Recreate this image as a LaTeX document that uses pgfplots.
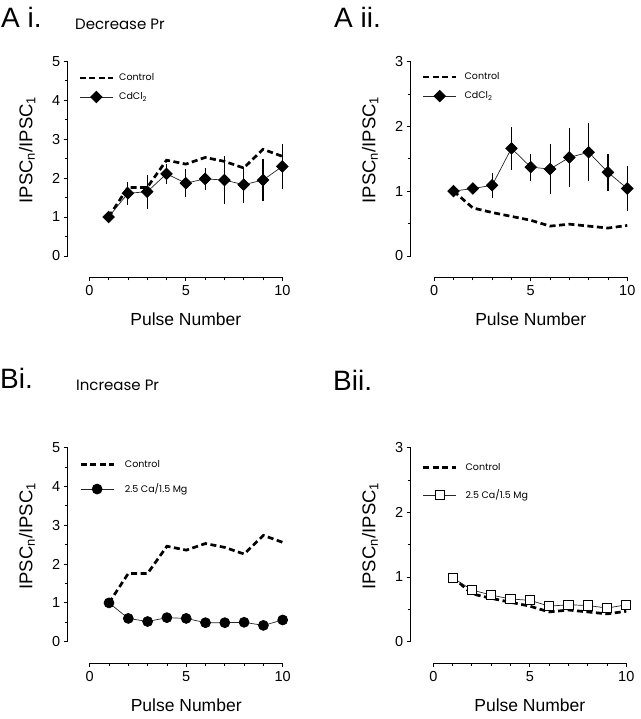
\documentclass[border=0pt]{standalone}
\usepackage{fontspec}
\setmainfont{Liberation Sans}
\newfontfamily\poppins{Poppins}
\usepackage{pgfplots}
\usepackage{pgfplotstable}
\pgfplotsset{compat=1.18}

% Control, "decrease Pr" set (panels Ai and Bi)
\pgfplotstableread{
x y
1 1.00
2 1.76
3 1.76
4 2.46
5 2.36
6 2.53
7 2.43
8 2.26
9 2.74
10 2.56
}\ctrlup
% Control, panels Aii and Bii
\pgfplotstableread{
x y
1 1.00
2 0.74
3 0.67
4 0.61
5 0.55
6 0.46
7 0.49
8 0.46
9 0.43
10 0.47
}\ctrldown
% CdCl2, panel Ai
\pgfplotstableread{
x y e
1 1.00 0
2 1.61 0.30
3 1.65 0.44
4 2.11 0.26
5 1.87 0.36
6 1.98 0.29
7 1.95 0.61
8 1.83 0.46
9 1.95 0.55
10 2.30 0.58
}\cdA
% CdCl2, panel Aii
\pgfplotstableread{
x y e
1 1.00 0
2 1.04 0.05
3 1.09 0.19
4 1.66 0.33
5 1.37 0.21
6 1.34 0.38
7 1.52 0.45
8 1.60 0.45
9 1.29 0.29
10 1.04 0.34
}\cdB
% 2.5 Ca / 1.5 Mg, panel Bi
\pgfplotstableread{
x y
1 1.00
2 0.60
3 0.52
4 0.62
5 0.60
6 0.49
7 0.49
8 0.50
9 0.42
10 0.56
}\caA
% 2.5 Ca / 1.5 Mg, panel Bii
\pgfplotstableread{
x y
1 0.99
2 0.80
3 0.72
4 0.66
5 0.64
6 0.55
7 0.57
8 0.56
9 0.52
10 0.57
}\caB

\pgfplotsset{
  panel/.style={
    clip=false,
    axis lines*=left,
    tick align=outside,
    x=19.3pt,
    xmax=10,
    xtick={0,5,10},
    minor x tick num=4,
    minor y tick num=1,
    major tick length=4pt,
    minor tick length=3pt,
    every tick/.style={black, line width=0.8pt},
    axis line style={line width=0.8pt},
    tick label style={font=\fontsize{14.5}{14.5}\selectfont},
    xticklabel style={yshift=-1pt},
    /pgf/number format/assume math mode=true,
    xlabel={Pulse Number},
    ylabel={IPSC\textsubscript{n}/IPSC\textsubscript{1}},
    every axis x label/.style={at={(axis cs:5,0)}, anchor=base, yshift=-70pt,
      font=\fontsize{17.5}{17.5}\selectfont},
    every axis y label/.style={at={(rel axis cs:0,0.59)}, rotate=90, anchor=base,
      yshift=35.4pt, font=\fontsize{18.5}{18.5}\selectfont},
    legend cell align=left,
    legend image code/.code={\draw[mark repeat=2,mark phase=2,##1]
      plot coordinates {(0pt,0pt) (16.5pt,0pt) (33pt,0pt)};},
    legend style={draw=none, fill=none, inner sep=0pt, anchor=north west,
      font=\poppins\fontsize{9.5}{11}\selectfont, nodes={inner sep=0pt},
      column sep=5pt},
  },
  ctrl/.style={black, line width=2.7pt, dash pattern=on 6pt off 3.5pt, mark=none},
  cd/.style={black!85, line width=0.7pt, mark=square*, mark size=4.1pt,
    mark options={rotate=45, solid, fill=black, draw=black},
    error bars/.cd, y dir=both, y explicit,
    error bar style={line width=1.1pt, black}, error mark=none},
}

\begin{document}
\begin{tikzpicture}
\useasboundingbox (0,0) rectangle (640pt,-719pt);

\node[anchor=base west, inner sep=0pt, font=\fontsize{28}{28}\selectfont] at (1pt,-27.5pt) {A i.};
\node[anchor=base west, inner sep=0pt, font=\poppins\fontsize{15}{15}\selectfont] at (75pt,-30pt) {Decrease Pr};
\node[anchor=base west, inner sep=0pt, font=\fontsize{28}{28}\selectfont] at (334pt,-28pt) {A ii.};
\node[anchor=base west, inner sep=0pt, font=\fontsize{28}{28}\selectfont] at (0pt,-388.5pt) {Bi.};
\node[anchor=base west, inner sep=0pt, font=\poppins\fontsize{15}{15}\selectfont] at (76pt,-390pt) {Increase Pr};
\node[anchor=base west, inner sep=0pt, font=\fontsize{28}{28}\selectfont] at (333pt,-390pt) {Bii.};

% ---- A i.
\begin{axis}[panel, at={(67.7pt,-277.3pt)}, anchor=south west,
  y=38.9pt, xmin=-1.12, ymin=-0.55, ymax=5, ytick={0,1,2,3,4,5},
  x axis line style={shorten <=21.6pt}, y axis line style={shorten <=21.4pt},
  legend style={at={(axis cs:-0.57,4.69)}, row sep=9pt}]
\addplot[ctrl] table[x=x,y=y] {\ctrlup};
\addlegendentry{Control}
\addplot[cd] table[x=x,y=y,y error=e] {\cdA};
\addlegendentry{CdCl\textsubscript{2}}
\end{axis}

% ---- A ii.
\begin{axis}[panel, at={(410.7pt,-277.3pt)}, anchor=south west,
  y=64.8pt, xmin=-1.22, ymin=-0.33, ymax=3, ytick={0,1,2,3},
  x axis line style={shorten <=23.5pt}, y axis line style={shorten <=21.4pt},
  legend style={at={(axis cs:-0.65,2.83)}, row sep=9pt, column sep=7pt}]
\addplot[ctrl] table[x=x,y=y] {\ctrldown};
\addlegendentry{Control}
\addplot[cd] table[x=x,y=y,y error=e] {\cdB};
\addlegendentry{CdCl\textsubscript{2}}
\end{axis}

% ---- B i.
\begin{axis}[panel, at={(67.7pt,-663.3pt)}, anchor=south west,
  y=38.8pt, xmin=-1.14, ymin=-0.557, ymax=5, ytick={0,1,2,3,4,5},
  x axis line style={shorten <=22pt}, y axis line style={shorten <=21.6pt},
  legend style={at={(axis cs:-0.55,4.68)}, row sep=15pt, column sep=10pt}]
\addplot[ctrl] table[x=x,y=y] {\ctrlup};
\addlegendentry{Control}
\addplot[black!85, line width=0.7pt, mark=*, mark size=5pt,
  mark options={solid, fill=black, draw=black}] table[x=x,y=y] {\caA};
\addlegendentry{2.5 Ca/1.5 Mg}
\end{axis}

% ---- B ii.
\begin{axis}[panel, at={(410.7pt,-663.3pt)}, anchor=south west,
  y=64.7pt, xmin=-1.17, ymin=-0.334, ymax=3, ytick={0,1,2,3},
  x axis line style={shorten <=22.6pt}, y axis line style={shorten <=21.6pt},
  legend style={at={(axis cs:-0.6,2.76)}, row sep=18pt, column sep=8pt}]
\addplot[ctrl] table[x=x,y=y] {\ctrldown};
\addlegendentry{Control}
\addplot[black!85, line width=0.7pt, mark=square*, mark size=4.6pt,
  mark options={solid, fill=white, draw=black, line width=0.9pt}] table[x=x,y=y] {\caB};
\addlegendentry{2.5 Ca/1.5 Mg}
\end{axis}
\end{tikzpicture}
\end{document}
